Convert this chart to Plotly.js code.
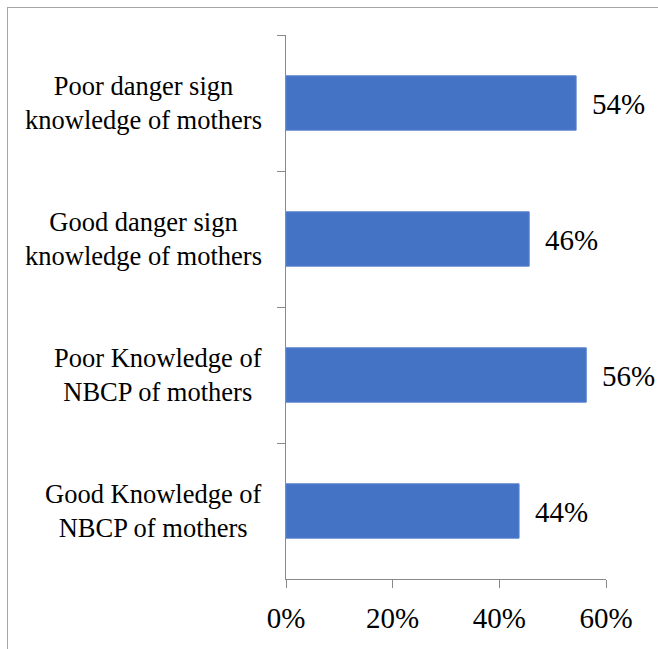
<!DOCTYPE html>
<html>
<head>
<meta charset="utf-8">
<script src="https://cdn.plot.ly/plotly-3.0.1.min.js"></script>
<style>
  html, body { margin: 0; padding: 0; background: #fff; }
  #wrap { position: relative; width: 658px; height: 649px; }
  #chart { position: absolute; left: 0; top: 0; width: 658px; height: 649px; }
  #frame { position: absolute; left: 7px; top: 7px; width: 660px; height: 660px;
           border-left: 1px solid #a6a6a6; border-top: 1px solid #a6a6a6; pointer-events: none; }
</style>
</head>
<body>
<div id="wrap">
  <div id="chart"></div>
  <div id="frame"></div>
</div>
<script>
// Data
const categories = [
  "Poor danger sign<br>knowledge of mothers",
  "Good danger sign<br>knowledge of mothers",
  "Poor Knowledge of<br>NBCP of mothers",
  "Good Knowledge of<br>NBCP of mothers"
];
const values = [54.4, 45.6, 56.3, 43.7];
const valueLabels = ["54%", "46%", "56%", "44%"];
const xTicks = [0, 20, 40, 60];
const xTickLabels = ["0%", "20%", "40%", "60%"];

const FONT = '"Liberation Serif", "Times New Roman", Times, serif';
const AXIS = '#898989';

const trace = {
  type: 'bar',
  orientation: 'h',
  x: values,
  y: categories,
  marker: { color: '#4472C4', line: { color: '#5b85d0', width: 1 } },
  hoverinfo: 'none'
};

const annotations = [];
categories.forEach((c, i) => {
  annotations.push({
    xref: 'paper', yref: 'y', x: 0, y: c,
    xanchor: 'right', yanchor: 'middle', align: 'center',
    xshift: -22,
    text: c, showarrow: false,
    font: { family: FONT, size: 26.5, color: '#000' }
  });
  annotations.push({
    xref: 'x', yref: 'y', x: values[i], y: c,
    xanchor: 'left', yanchor: 'middle',
    xshift: 14, yshift: -1,
    text: valueLabels[i], showarrow: false,
    font: { family: FONT, size: 29, color: '#000' }
  });
});

const layout = {
  width: 658, height: 649,
  margin: { l: 286, r: 52, t: 35, b: 70, pad: 0 },
  paper_bgcolor: '#fff', plot_bgcolor: '#fff',
  showlegend: false,
  bargap: 0.6,
  font: { family: FONT, color: '#000' },
  xaxis: {
    range: [0, 60], tickvals: xTicks, ticktext: xTickLabels,
    showgrid: false, zeroline: false,
    showline: true, linecolor: AXIS, linewidth: 1,
    ticks: 'outside', ticklen: 8, tickcolor: AXIS, tickwidth: 1,
    ticklabelstandoff: 5,
    tickfont: { family: FONT, size: 29, color: '#000' },
    fixedrange: true
  },
  yaxis: {
    type: 'category', autorange: 'reversed',
    showgrid: false, zeroline: false,
    showline: true, linecolor: AXIS, linewidth: 1,
    ticks: 'outside', ticklen: 8, tickcolor: AXIS, tickwidth: 1,
    tickson: 'boundaries',
    showticklabels: false,
    fixedrange: true
  },
  annotations: annotations
};

Plotly.newPlot('chart', [trace], layout, { displayModeBar: false, staticPlot: true });
</script>
</body>
</html>
